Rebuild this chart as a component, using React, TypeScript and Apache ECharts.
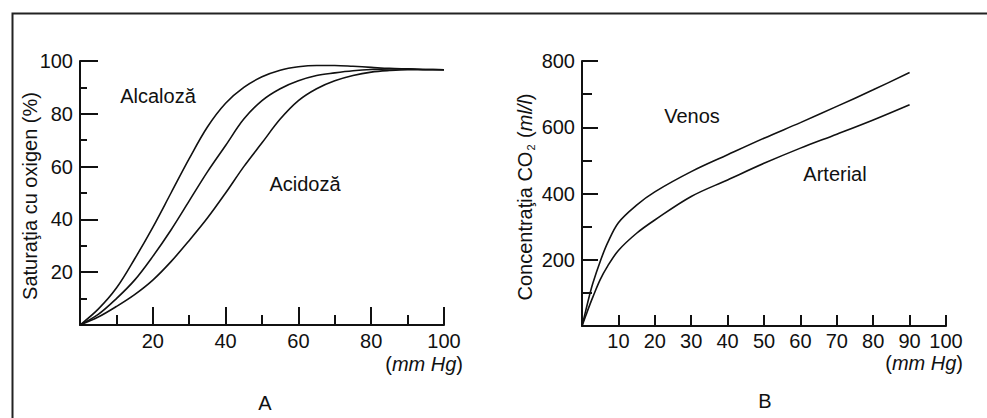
import React, { useEffect, useRef } from "react";
import * as echarts from "echarts";

// Panel A: oxygen saturation curves
const aPressure = [0, 5, 10, 15, 20, 25, 30, 35, 40, 45, 50, 55, 60, 65, 70, 75, 80, 85, 90, 95, 100];
const aAlcaloza = [0, 6, 14, 25, 37, 50, 63, 75, 84, 90, 94, 96.5, 97.8, 98.3, 98.3, 98, 97.6, 97.2, 97, 96.8, 96.7];
const aNormal = [0, 4, 10, 17, 26, 36, 47, 58, 68, 78, 85, 89.5, 92.5, 94.5, 95.5, 96.3, 96.8, 97, 97, 96.8, 96.7];
const aAcidoza = [0, 3, 7, 11.5, 17, 24, 32, 40.5, 50, 60, 69, 78, 85, 89.5, 92.5, 94.5, 95.8, 96.4, 96.7, 96.7, 96.7];

// Panel B: CO2 concentration curves
const bPressure = [0, 1, 2, 3, 5, 7, 10, 15, 20, 30, 40, 50, 60, 70, 80, 90];
const bVenos = [0, 45, 90, 130, 195, 250, 312, 365, 405, 466, 517, 567, 614, 663, 713, 765];
const bArterial = [0, 30, 60, 88, 140, 180, 228, 280, 320, 391, 441, 491, 537, 579, 622, 668];

const FONT = '"Liberation Sans", Arial, Helvetica, sans-serif';
const INK = "#111";
const FS = 20;

function pairs(xs: number[], ys: number[]) {
  return xs.map((x, i) => [x, ys[i]]);
}

export default function App() {
  const ref = useRef<HTMLDivElement>(null);

  useEffect(() => {
    if (!ref.current) return;
    const chart = echarts.init(ref.current, null, { renderer: "svg" });

    const axisLine = { show: true, onZero: false, lineStyle: { color: INK, width: 2 } };
    const tickStyle = { color: INK, width: 2 };
    const label = { color: INK, fontSize: FS, fontFamily: FONT, showMinLabel: false };
    const lineSeries = (xi: number, data: number[][]) => ({
      type: "line",
      xAxisIndex: xi,
      yAxisIndex: xi,
      data,
      smooth: 0.35,
      showSymbol: false,
      symbol: "none",
      lineStyle: { color: INK, width: 1.6 },
      silent: true,
    });
    const plain = (text: string, x: number, y: number) => ({
      type: "text",
      x,
      y,
      style: { text, fill: INK, fontSize: FS, fontFamily: FONT, align: "center", verticalAlign: "middle" },
    });
    const mmHg = (x: number, y: number) => ({
      type: "text",
      x,
      y,
      style: {
        text: "{n|(}{i|mm Hg}{n|)}",
        align: "right",
        verticalAlign: "middle",
        rich: {
          n: { fontSize: FS, fontFamily: FONT, fill: INK },
          i: { fontSize: FS, fontFamily: FONT, fill: INK, fontStyle: "italic" },
        },
      },
    });

    chart.setOption({
      animation: false,
      backgroundColor: "#fff",
      grid: [
        { left: 80, top: 61, width: 364, height: 264 },
        { left: 582, top: 61, width: 364, height: 265 },
      ],
      xAxis: [
        {
          type: "value",
          gridIndex: 0,
          min: 0,
          max: 100,
          interval: 20,
          axisLine,
          axisTick: { show: true, inside: true, length: 18, lineStyle: tickStyle },
          minorTick: { show: true, splitNumber: 2, length: 10, lineStyle: tickStyle },
          splitLine: { show: false },
          axisLabel: { ...label, margin: 6 },
        },
        {
          type: "value",
          gridIndex: 1,
          min: 0,
          max: 100,
          interval: 10,
          axisLine,
          axisTick: { show: true, inside: true, length: 11, lineStyle: tickStyle },
          splitLine: { show: false },
          axisLabel: { ...label, margin: 5 },
        },
      ],
      yAxis: [
        {
          type: "value",
          gridIndex: 0,
          min: 0,
          max: 100,
          interval: 20,
          axisLine,
          axisTick: { show: true, inside: true, length: 18, lineStyle: tickStyle },
          minorTick: { show: true, splitNumber: 2, length: 7, lineStyle: tickStyle },
          splitLine: { show: false },
          axisLabel: { ...label, margin: 7 },
        },
        {
          type: "value",
          gridIndex: 1,
          min: 0,
          max: 800,
          interval: 200,
          axisLine,
          axisTick: { show: true, inside: true, length: 16, lineStyle: tickStyle },
          minorTick: { show: true, splitNumber: 2, length: 10, lineStyle: tickStyle },
          splitLine: { show: false },
          axisLabel: { ...label, margin: 7 },
        },
      ],
      series: [
        lineSeries(0, pairs(aPressure, aAlcaloza)),
        lineSeries(0, pairs(aPressure, aNormal)),
        lineSeries(0, pairs(aPressure, aAcidoza)),
        lineSeries(1, pairs(bPressure, bVenos)),
        lineSeries(1, pairs(bPressure, bArterial)),
      ],
      graphic: [
        {
          type: "polyline",
          silent: true,
          shape: { points: [[12.5, 418], [12.5, 13.5], [987, 13.5]] },
          style: { stroke: "#222", lineWidth: 2, fill: null },
        },
        {
          type: "text",
          x: 30,
          y: 196,
          rotation: Math.PI / 2,
          style: { text: "Saturaţia cu oxigen (%)", fill: INK, fontSize: FS, fontFamily: FONT, align: "center", verticalAlign: "middle" },
        },
        {
          type: "text",
          x: 525,
          y: 197,
          rotation: Math.PI / 2,
          style: {
            text: "{n|Concentraţia CO}{s|2}{n| (}{i|ml/l}{n|)}",
            fill: INK,
            fontFamily: FONT,
            align: "center",
            verticalAlign: "middle",
            rich: {
              n: { fontSize: FS, fontFamily: FONT, fill: INK },
              s: { fontSize: 11, fontFamily: FONT, fill: INK, padding: [11, 1, 0, 1] },
              i: { fontSize: FS, fontFamily: FONT, fill: INK, fontStyle: "italic" },
            },
          },
        },
        plain("Alcaloză", 158, 96),
        plain("Acidoză", 305, 184),
        plain("Venos", 692, 116),
        plain("Arterial", 835, 174),
        mmHg(463, 364),
        mmHg(963, 363),
        plain("A", 265, 403),
        plain("B", 765, 401),
      ],
    });

    return () => chart.dispose();
  }, []);

  return (
    <div
      ref={ref}
      style={{ position: "fixed", left: 0, top: 0, width: 987, height: 418, background: "#fff" }}
    />
  );
}
